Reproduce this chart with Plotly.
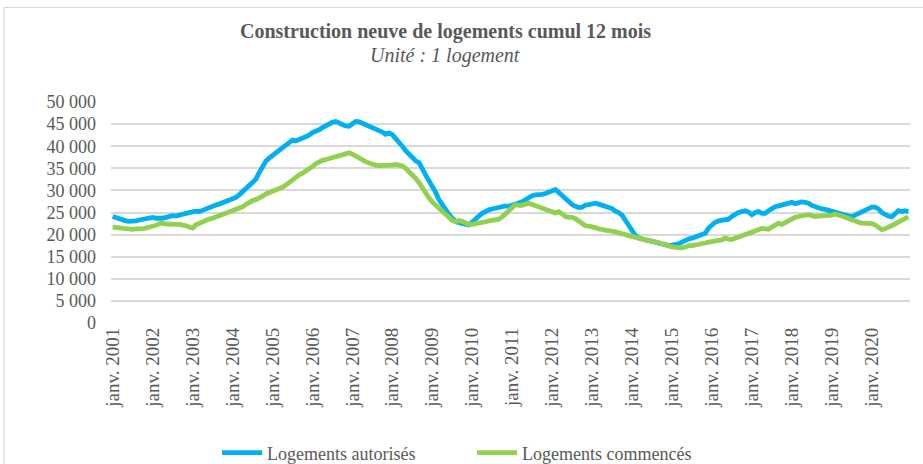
import plotly.graph_objects as go

years = list(range(2001, 2021))
mois = ["janv.", "févr.", "mars", "avr.", "mai", "juin", "juil.", "août", "sept.", "oct.", "nov.", "déc."]
categories = [f"{m} {y}" for y in years for m in mois]
tick_labels = [f"janv. {y}" for y in years]

autorises = [
    24100, 23800, 23500, 23300, 23100, 23000, 23000, 23100, 23300, 23500, 23700, 23800,
    23900, 23700, 23600, 23700, 23900, 24100, 24300, 24200, 24300, 24600, 24800, 25000,
    25200, 25300, 25200, 25500, 25900, 26300, 26500, 26700, 26900, 27200, 27400, 27700,
    27900, 28400, 29000, 29700, 30400, 31000, 31500, 32500, 34000, 35500, 36600, 37300,
    37900, 38300, 38800, 39400, 40000, 40800, 41400, 41200, 41500, 41800, 42000, 42500,
    43100, 43300, 43700, 44200, 44700, 45100, 45400, 45600, 45200, 44800, 44600, 44500,
    44900, 45600, 45500, 45200, 44900, 44600, 44200, 43900, 43500, 43200, 42700, 43000,
    42600, 41800, 41000, 40000, 39000, 38200, 37300, 36700, 36300, 34700, 33500, 32200,
    31000, 29600, 27900, 26800, 25400, 24600, 23700, 23000, 22700, 22600, 22500, 22200,
    22800, 23600, 24200, 24800, 25300, 25600, 25800, 26000, 26200, 26400, 26500, 26400,
    26600, 26800, 27000, 27400, 27900, 28400, 28800, 29000, 29000, 29100, 29300, 29700,
    30100, 30200, 29500, 28800, 28000, 27200, 26800, 26400, 26100, 26200, 26700, 26800,
    27000, 27100, 26900, 26700, 26500, 26300, 25900, 25300, 25000, 24400, 23200, 21800,
    20600, 19800, 19200, 19000, 18800, 18600, 18500, 18300, 18000, 17800, 17600, 17500,
    17600, 17700, 17900, 18300, 18800, 19000, 19200, 19500, 19700, 19900, 20300, 21500,
    22300, 22800, 23100, 23200, 23400, 23500, 24100, 24700, 25000, 25200, 25400, 25100,
    24500, 25000, 25200, 24800, 24800, 25400, 26000, 26300, 26500, 26700, 26900, 27100,
    27300, 27000, 27200, 27400, 27300, 27100, 26600, 26300, 26100, 25800, 25700, 25500,
    25400, 25200, 24900, 24600, 24400, 24200, 24000, 24400, 24800, 25200, 25700, 26100,
    26200, 26200, 25800, 25000, 24500, 24200, 24000, 24800, 25400, 25200, 25400, 25200,
]

commences = [
    21700, 21600, 21500, 21400, 21300, 21200, 21200, 21300, 21200, 21300, 21500, 21700,
    21800, 22100, 22500, 22600, 22400, 22300, 22200, 22300, 22300, 22200, 22000, 21700,
    21500, 22200, 22600, 22900, 23200, 23500, 23700, 24000, 24300, 24600, 24900, 25100,
    25300, 25600, 25900, 26300, 26800, 27300, 27700, 27900, 28200, 28700, 29200, 29500,
    29700, 30000, 30300, 30700, 31200, 31800, 32500, 33000, 33500, 33900, 34300, 34800,
    35400, 36000, 36500, 36800, 37000, 37200, 37400, 37500, 37700, 38000, 38300, 38500,
    38200, 37700, 37300, 36900, 36500, 36200, 35900, 35700, 35600, 35600, 35600, 35500,
    35700, 35900, 35800, 35500, 35000, 34300, 33500, 32700, 31800, 30500, 29300, 28300,
    27400, 26700, 25900, 25100, 24400, 23700, 23200, 22900, 23200, 23000, 22600, 22300,
    22300, 22400, 22500, 22700, 22900, 23100, 23300, 23500, 23500, 24000, 24700, 25500,
    26300, 26800, 26600, 26600, 26900, 27100, 26800, 26500, 26200, 26000, 25700, 25400,
    25200, 24900, 25200, 24600, 24100, 23900, 23900, 23600, 23100, 22500, 22000, 21900,
    21800, 21600, 21300, 21200, 21100, 20900, 20700, 20600, 20400, 20200, 20000, 19800,
    19600, 19300, 19000, 18800, 18700, 18600, 18500, 18400, 18200, 17900, 17600, 17400,
    17200, 17100, 17000, 17000, 17200, 17500, 17500, 17600, 17800, 17900, 18100, 18300,
    18500, 18600, 18700, 18800, 19200, 19000, 18900, 19200, 19500, 19800, 19900, 20200,
    20500, 20800, 21100, 21400, 21300, 21200, 21700, 22300, 22600, 22300, 22700, 23200,
    23700, 23900, 24100, 24200, 24300, 24500, 24300, 24100, 24200, 24200, 24300, 24200,
    24400, 24600, 24500, 24200, 23900, 23600, 23200, 22900, 22800, 22600, 22600, 22700,
    22500, 22200, 21500, 21100, 21300, 21600, 22000, 22400, 22800, 23200, 23700, 24000,
]

y_ticks = list(range(0, 50001, 5000))

FONT = "Liberation Serif, Times New Roman, serif"
GREY = "#595959"

fig = go.Figure()
fig.add_trace(go.Scatter(x=categories, y=autorises, mode="lines", name="Logements autorisés",
                         line=dict(color="#00B0F0", width=4.8), legend="legend"))
fig.add_trace(go.Scatter(x=categories, y=commences, mode="lines", name="Logements commencés",
                         line=dict(color="#92D050", width=4.8), legend="legend2"))

L, R, T, B = 111, 13, 102, 141
W, H = 923, 464
pw, ph = W - L - R, H - T - B

def px(xp):
    return (xp - L) / pw

def py(yp):
    return (H - B - yp) / ph

leg_common = dict(orientation="h", xanchor="left", xref="container", yref="container",
                  y=(H - 453) / H, yanchor="middle",
                  font=dict(family=FONT, size=18, color=GREY), itemwidth=40,
                  bgcolor="rgba(0,0,0,0)")

fig.update_layout(
    width=W, height=H,
    margin=dict(l=L, r=R, t=T, b=B, pad=0, autoexpand=False),
    paper_bgcolor="white", plot_bgcolor="white",
    separators=", ",
    font=dict(family=FONT, color=GREY, size=18),
    showlegend=True,
    legend=dict(x=217 / W, **leg_common),
    legend2=dict(x=472 / W, **leg_common),
    xaxis=dict(type="category", tickmode="array", tickvals=[f"janv. {y}" for y in years],
               ticktext=tick_labels, tickangle=-90, showgrid=False, showline=False,
               zeroline=False, ticks="", automargin=False,
               tickfont=dict(family=FONT, size=19, color=GREY),
               range=[-0.5, len(categories) - 0.5]),
    yaxis=dict(range=[0, 50000], tickmode="array", tickvals=y_ticks,
               ticktext=[f"{v:,}".replace(",", " ") for v in y_ticks],
               showgrid=True, gridcolor="#D9D9D9", gridwidth=1.5, zeroline=False,
               showline=False, ticks="", ticklabelstandoff=14, automargin=False,
               tickfont=dict(family=FONT, size=18, color=GREY)),
    annotations=[
        dict(text="<b>Construction neuve de logements cumul 12 mois</b>", x=px(445), y=py(31),
             xref="paper", yref="paper", showarrow=False, xanchor="center", yanchor="middle",
             font=dict(family=FONT, size=20, color=GREY)),
        dict(text="<i>Unité : 1 logement</i>", x=px(445), y=py(55),
             xref="paper", yref="paper", showarrow=False, xanchor="center", yanchor="middle",
             font=dict(family=FONT, size=20, color=GREY)),
    ],
    shapes=[dict(type="rect", xref="paper", yref="paper", x0=px(4), x1=px(926), y0=py(468), y1=py(7.5),
                 line=dict(color="#D9D9D9", width=1.2), layer="below")],
)

fig.write_html("out.html", config={"displayModeBar": False},
               post_script="document.body.style.margin='0';document.body.style.overflow='hidden';")
